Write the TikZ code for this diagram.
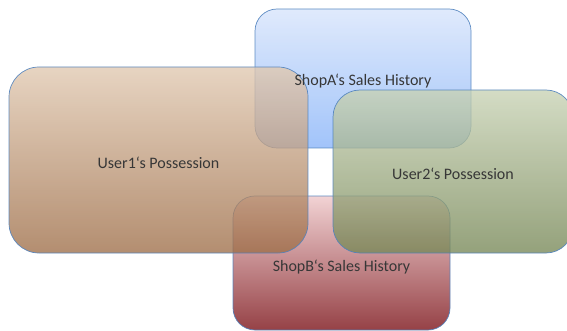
\documentclass[tikz,border=0pt]{standalone}
\usepackage{fontspec}
\setmainfont{Carlito}
\definecolor{edge}{RGB}{79,129,189}
\definecolor{txt}{RGB}{55,55,55}
\definecolor{aTop}{RGB}{215,228,251}
\definecolor{aBot}{RGB}{135,179,248}
\definecolor{uTop}{RGB}{224,200,176}
\definecolor{uBot}{RGB}{158,110,72}
\definecolor{vTop}{RGB}{200,210,180}
\definecolor{vBot}{RGB}{118,135,86}
\definecolor{bTop}{RGB}{238,198,200}
\definecolor{bMid}{RGB}{215,128,128}
\definecolor{bBot}{RGB}{120,12,18}
\tikzset{
  region/.style={draw=edge, line width=0.7pt, fill opacity=0.78, draw opacity=0.9, inner sep=0pt},
  lbl/.style={text=txt, font=\fontsize{16}{19}\selectfont, inner sep=0pt}
}
\begin{document}
\begin{tikzpicture}[x=1pt,y=-1pt]
\useasboundingbox (0,0) rectangle (567,331);
\node[region, rounded corners=22pt, minimum width=216pt, minimum height=139pt,
      top color=aTop, bottom color=aBot] (shopA) at (363,78.5) {};
\node[region, rounded corners=22pt, minimum width=217pt, minimum height=134pt,
      top color=bTop, middle color=bMid, bottom color=bBot] (shopB) at (341.5,263) {};
\node[region, rounded corners=30pt, minimum width=299pt, minimum height=186pt,
      top color=uTop, bottom color=uBot] (user1) at (158.5,160) {};
\node[region, rounded corners=27pt, minimum width=240pt, minimum height=163pt,
      top color=vTop, bottom color=vBot] (user2) at (453,171.5) {};
\node[lbl] (tA) at ([yshift=-2.5pt]shopA.center) {ShopA‘s Sales History};
\node[lbl] (t1) at ([yshift=-3pt]user1.center) {User1‘s Possession};
\node[lbl] (t2) at ([yshift=-2.5pt]user2.center) {User2‘s Possession};
\node[lbl] (tB) at ([yshift=-4pt]shopB.center) {ShopB‘s Sales History};
\end{tikzpicture}
\end{document}
